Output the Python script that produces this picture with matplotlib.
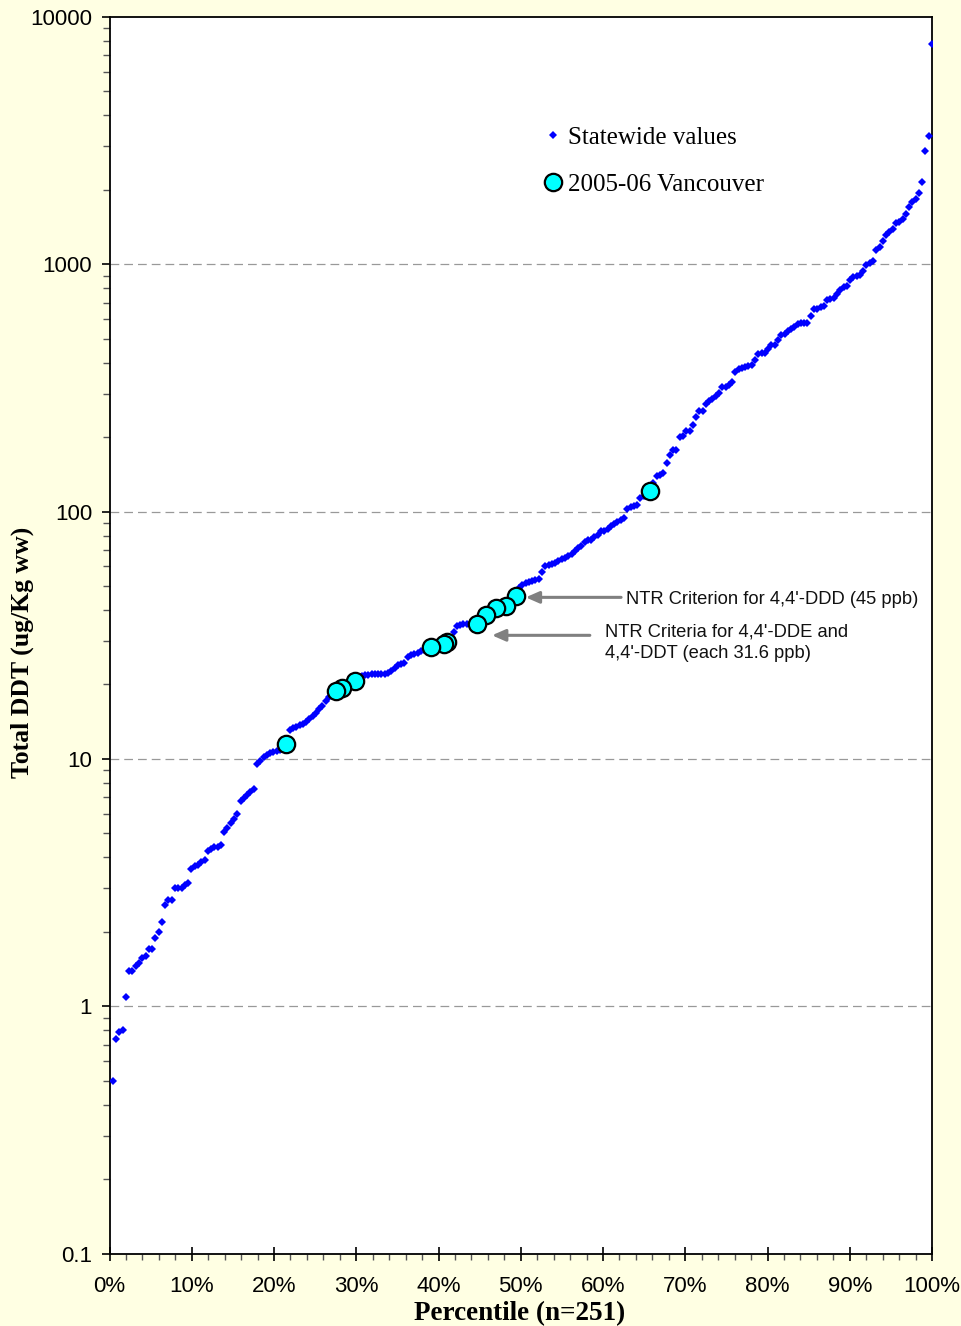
import numpy as np
import matplotlib
matplotlib.use("Agg")
import matplotlib.pyplot as plt
from matplotlib.ticker import FixedLocator, LogLocator, NullFormatter, MultipleLocator

# ---------------- data ----------------
statewide_values = [
    0.50, 0.74, 0.79, 0.80, 1.09, 1.39, 1.39, 1.46, 1.50, 1.57,
    1.59, 1.70, 1.70, 1.89, 1.99, 2.19, 2.56, 2.69, 2.69, 3.00,
    3.00, 3.00, 3.09, 3.14, 3.60, 3.69, 3.72, 3.84, 3.90, 4.24,
    4.31, 4.39, 4.41, 4.48, 5.06, 5.24, 5.49, 5.70, 5.99, 6.78,
    6.95, 7.15, 7.35, 7.54, 9.55, 9.84, 10.2, 10.4, 10.6, 10.7,
    10.8, 10.9, 11.0, 11.5, 13.1, 13.3, 13.5, 13.7, 13.9, 14.1,
    14.5, 14.9, 15.4, 15.9, 16.4, 17.1, 17.8, 18.4, 18.9, 19.2,
    19.4, 19.8, 20.2, 20.5, 20.7, 21.2, 21.7, 21.9, 21.9, 22.0,
    22.0, 22.0, 22.1, 22.1, 22.2, 22.7, 23.4, 24.0, 24.2, 24.4,
    25.9, 26.4, 26.6, 26.8, 27.2, 27.6, 28.0, 28.3, 28.5, 28.8,
    29.0, 29.2, 29.6, 30.0, 32.5, 34.5, 34.8, 35.0, 35.0, 35.1,
    35.1, 35.1, 36.0, 37.2, 38.3, 39.2, 40.0, 40.7, 41.0, 41.3,
    41.7, 43.0, 44.5, 45.7, 49.0, 50.6, 51.5, 52.0, 52.4, 53.0,
    53.3, 56.8, 60.4, 61.0, 61.3, 62.0, 63.0, 64.3, 65.0, 66.0,
    67.6, 69.0, 71.3, 72.8, 75.1, 76.5, 77.0, 78.6, 80.6, 83.2,
    83.2, 84.8, 87.1, 89.1, 90.8, 92.8, 94.3, 102.6, 104.0, 105.0,
    106.0, 113.6, 116.0, 119.0, 121.6, 130.0, 139.0, 141.0, 143.6, 157.4,
    170.0, 177.0, 177.0, 200.6, 202.0, 211.5, 211.5, 223.0, 241.7, 254.6,
    254.6, 273.6, 279.7, 285.9, 293.0, 300.5, 318.7, 318.7, 323.7, 333.8,
    366.6, 378.3, 381.8, 383.9, 387.5, 389.9, 410.0, 432.0, 436.0, 438.7,
    452.7, 470.0, 470.0, 494.0, 516.0, 525.0, 537.0, 549.0, 557.0, 571.0,
    577.0, 577.0, 581.0, 617.6, 657.6, 660.0, 674.0, 678.0, 715.0, 721.0,
    732.6, 760.5, 787.0, 812.6, 815.0, 861.0, 884.6, 892.8, 903.0, 939.7,
    991.0, 1009.0, 1031.0, 1142.0, 1180.0, 1242.0, 1310.0, 1351.0, 1386.0, 1466.0,
    1489.0, 1522.0, 1604.0, 1697.0, 1787.0, 1845.0, 1938.0, 2142.0, 2867.0, 3300.0,
    7780.0,
]
n_samples = 251

# Vancouver 2005-06 samples: rank within statewide set and value
vancouver_rank = [54, 69, 71, 75, 98, 102, 103, 112, 115, 118, 121, 124, 165]
vancouver_values = [11.5, 18.9, 19.4, 20.7, 28.3, 29.2, 29.6, 35.1, 38.3, 40.7, 41.7, 45.7, 121.6]

y_ticks = [0.1, 1, 10, 100, 1000, 10000]
y_tick_labels = ["0.1", "1", "10", "100", "1000", "10000"]
x_ticks = [0, 10, 20, 30, 40, 50, 60, 70, 80, 90, 100]
x_tick_labels = ["0%", "10%", "20%", "30%", "40%", "50%", "60%", "70%", "80%", "90%", "100%"]

criterion_ddd = 45.0
criterion_dde_ddt = 31.6

# ---------------- figure ----------------
W, H = 962, 1326
fig = plt.figure(figsize=(W / 100, H / 100), dpi=100)
bg = "#FFFFE3"
fig.patch.set_facecolor(bg)

left, right, top, bottom = 109.5, 932, 17, 1253.5
ax = fig.add_axes([left / W, 1 - bottom / H, (right - left) / W, (bottom - top) / H])
ax.set_facecolor("white")

x_state = [100.0 * (i + 1) / n_samples for i in range(len(statewide_values))]
x_vanc = [100.0 * r / n_samples for r in vancouver_rank]

ax.plot(x_state, statewide_values, linestyle="none", marker="D", markersize=3.8,
        color="#0000FF", markeredgewidth=0, zorder=3, label="Statewide values")
# draw in reverse so lower-left circles sit on top
ax.plot(x_vanc[::-1], vancouver_values[::-1], linestyle="none", marker="o", markersize=12.5,
        markerfacecolor="#00FFFF", markeredgecolor="black", markeredgewidth=1.6,
        zorder=4, label="2005-06 Vancouver")

ax.set_yscale("log")
ax.set_ylim(0.1, 10000)
ax.set_xlim(0, 100)

ax.yaxis.set_major_locator(FixedLocator(y_ticks))
ax.set_yticklabels(y_tick_labels)
ax.yaxis.set_minor_locator(LogLocator(base=10, subs=np.arange(2, 10)))
ax.yaxis.set_minor_formatter(NullFormatter())
ax.xaxis.set_major_locator(FixedLocator(x_ticks))
ax.set_xticklabels(x_tick_labels)
ax.xaxis.set_minor_locator(MultipleLocator(2))

for lab in ax.get_xticklabels() + ax.get_yticklabels():
    lab.set_fontfamily(["Liberation Sans", "DejaVu Sans"])
    lab.set_fontsize(16)

ax.tick_params(axis="y", which="major", direction="out", length=6, width=1.2, pad=6.5, colors="black")
ax.tick_params(axis="y", which="minor", direction="out", length=5, width=1.0, color="#555555")
ax.tick_params(axis="x", which="major", direction="inout", length=10, width=1.2, pad=11)
ax.tick_params(axis="x", which="minor", direction="out", length=4, width=1.0, color="#555555")

for sp in ax.spines.values():
    sp.set_linewidth(1.3)
    sp.set_color("black")

for yv in [1, 10, 100, 1000]:
    ax.axhline(yv, color="#999999", linewidth=0.9, linestyle=(0, (7, 4)), zorder=1)

ax.set_xlabel("Percentile (n=251)", fontfamily=["Liberation Serif", "DejaVu Serif"],
              fontweight="bold", fontsize=19.5)
ax.set_ylabel("Total DDT (ug/Kg ww)", fontfamily=["Liberation Serif", "DejaVu Serif"],
              fontweight="bold", fontsize=18.5)
ax.xaxis.set_label_coords((520 - left) / (right - left), -(1301 - bottom) / (bottom - top))
ax.yaxis.set_label_coords(-(109.5 - 34) / (right - left), 1 - (652 - top) / (bottom - top))

leg = ax.legend(loc="upper left",
                bbox_to_anchor=((540 - left) / (right - left), 1 - (126 - top) / (bottom - top)),
                frameon=False, prop=dict(family=["Liberation Serif", "DejaVu Serif"], size=18),
                handletextpad=0.05, labelspacing=1.0, handlelength=1.05, borderpad=0, borderaxespad=0,
                markerscale=1.0)

# Criterion arrows
arrow_kw = dict(arrowstyle="-|>,head_length=0.8,head_width=0.35", color="#808080", lw=2.2,
                shrinkA=0, shrinkB=0)
ax.annotate("", xy=(50.6, criterion_ddd), xytext=(62.2, criterion_ddd), arrowprops=arrow_kw, zorder=5)
ax.annotate("", xy=(46.5, criterion_dde_ddt), xytext=(58.4, criterion_dde_ddt), arrowprops=arrow_kw, zorder=5)
ax.text(62.8, 44.0, "NTR Criterion for 4,4'-DDD (45 ppb)", va="center", ha="left",
        fontfamily=["Liberation Sans", "DejaVu Sans"], fontsize=13.2, color="#111111")
ax.text(60.2, 29.5, "NTR Criteria for 4,4'-DDE and\n4,4'-DDT (each 31.6 ppb)",
        va="center", ha="left", fontfamily=["Liberation Sans", "DejaVu Sans"], fontsize=13.2,
        color="#111111", linespacing=1.38)

fig.savefig("out.png", dpi=100, facecolor=bg)
